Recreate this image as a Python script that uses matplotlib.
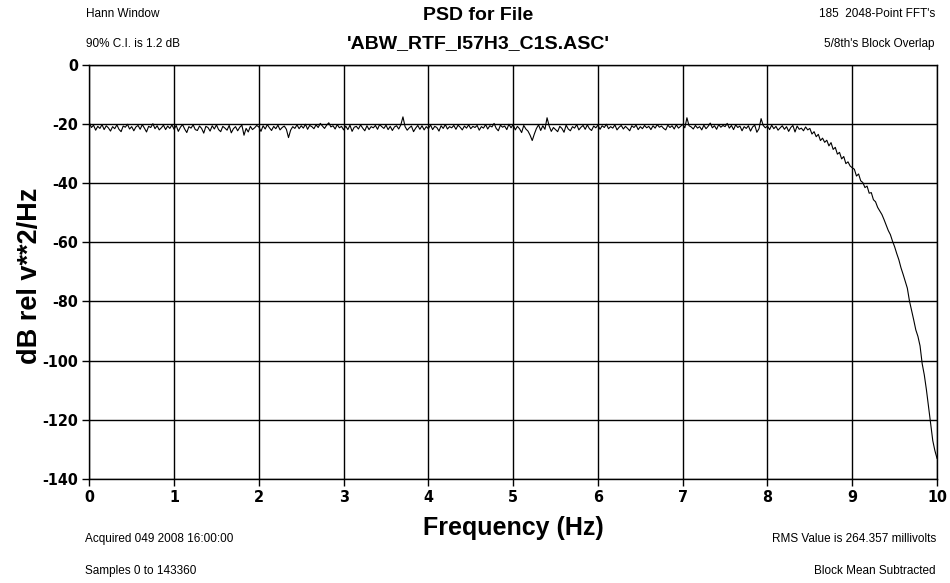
import numpy as np
import matplotlib
matplotlib.use("Agg")
import matplotlib.pyplot as plt
from matplotlib.font_manager import FontProperties

# ---- data (dB rel v**2/Hz, 0.025 Hz spacing) ----
psd_0_4 = [
    -19.6, -21.2, -20.4, -22.1, -20.8, -21.5, -20.2, -21.9, -20.6, -21.3, -22.4, -20.9, -21.6, -20.3, -21.8, -22.6, -20.7, -21.1, -20.1, -21.7,
    -20.9, -22.3, -21.0, -20.5, -21.8, -20.2, -21.4, -22.7, -20.8, -21.2, -19.9, -21.6, -20.6, -22.0, -21.3, -20.4, -21.9, -20.7, -21.5, -20.3,
    -21.8, -20.5, -22.5, -21.1, -20.2, -21.7, -22.9, -20.9, -21.4, -20.3, -21.9, -22.2, -20.7, -21.5, -23.1, -20.8, -21.2, -22.4, -20.6, -21.7,
    -20.3, -21.9, -22.6, -20.8, -21.4, -22.1, -20.5, -23.0, -21.6, -20.9, -22.3, -21.1, -20.4, -23.8, -21.5, -22.7, -20.8, -21.9, -21.3, -20.5,
    -21.0, -22.5, -20.6, -21.7, -20.2, -21.3, -22.2, -20.8, -21.6, -20.4, -22.0, -21.2, -20.7, -21.8, -24.6, -22.1, -20.9, -21.5, -20.3, -21.6,
    -20.6, -21.4, -20.1, -21.8, -20.5, -20.9, -21.6, -20.3, -21.2, -19.8, -20.7, -21.5, -20.4, -19.6, -21.0, -20.6, -21.7, -20.2, -21.3, -20.8,
    -22.0, -20.7, -21.9, -20.4, -22.5, -21.1, -20.8, -21.7, -20.3, -21.4, -22.3, -20.6, -21.9, -20.9, -21.3, -20.5, -21.8, -20.2, -20.9, -21.5,
    -20.4, -21.9, -20.8, -22.2, -21.0, -20.6, -21.7, -20.3, -17.6, -20.9, -22.1, -21.3, -20.7, -22.6, -21.4, -20.5, -21.8, -20.6, -22.0, -20.9,
]
psd_4_8 = [
    -21.6, -20.3, -21.9, -20.8, -21.2, -22.4, -20.6, -21.5, -20.2, -21.7, -20.9, -21.3, -20.5, -21.8, -20.4, -21.1, -22.0, -20.7, -21.4, -20.3,
    -21.6, -20.8, -21.2, -20.5, -22.1, -20.9, -21.4, -20.2, -21.7, -20.6, -21.0, -19.8, -21.5, -22.3, -20.4, -21.1, -20.7, -21.9, -20.1, -21.3,
    -20.2, -22.0, -20.8, -21.6, -22.9, -20.5, -21.7, -22.4, -23.8, -25.6, -23.4, -21.5, -20.3, -22.2, -20.6, -21.8, -17.9, -20.7, -22.5, -21.2,
    -21.9, -22.6, -20.8, -21.5, -22.8, -20.4, -21.7, -22.3, -20.9, -21.4, -20.2, -22.0, -21.1, -20.5, -21.8, -20.3, -21.6, -22.2, -20.7, -21.3,
    -20.4, -21.8, -20.6, -21.2, -20.1, -21.6, -20.9, -21.4, -20.3, -22.0, -21.1, -20.5, -21.7, -20.8, -21.5, -22.3, -20.6, -21.2, -20.4, -21.9,
    -20.9, -21.6, -20.5, -21.3, -20.8, -21.9, -20.6, -21.4, -20.2, -21.1, -20.7, -21.5, -22.0, -20.4, -21.2, -20.6, -21.7, -20.3, -21.4, -20.8,
    -20.1, -21.3, -17.9, -20.6, -21.0, -21.7, -20.5, -21.4, -20.9, -22.0, -20.4, -21.6, -20.8, -19.7, -21.3, -20.6, -21.8, -20.2, -21.1, -20.5,
    -20.9, -19.8, -21.4, -20.5, -21.9, -20.3, -21.2, -20.7, -22.3, -20.9, -21.5, -20.6, -22.4, -21.0, -20.4, -22.8, -21.6, -18.2, -20.5, -21.3,
]
psd_8_10 = [
    -20.7, -21.9, -20.4, -21.6, -20.8, -22.1, -21.3, -20.6, -21.8, -20.9, -22.5, -21.2, -20.5, -22.7, -20.7, -21.8, -21.4, -22.3, -21.0, -22.0,
    -21.5, -23.4, -22.6, -24.3, -23.5, -25.6, -24.8, -26.2, -25.5, -27.4, -26.3, -28.6, -27.9, -30.2, -29.6, -31.8, -31.0, -33.4, -32.8, -34.2,
    -34.8, -35.3, -37.6, -36.9, -39.2, -39.8, -41.5, -41.0, -43.4, -43.2, -45.6, -46.3, -48.2, -49.4, -50.6, -52.3, -54.1, -56.0, -57.4, -59.6,
    -61.5, -63.8, -65.9, -68.6, -70.8, -73.2, -75.5, -79.8, -83.0, -86.2, -89.6, -91.8, -95.0, -101.0, -104.8, -109.8, -115.6, -121.2, -127.0, -130.4,
    -133.0,
]
psd_db = psd_0_4 + psd_4_8 + psd_8_10
freq_hz = np.linspace(0.0, 10.0, len(psd_db))

x_ticks = [0, 1, 2, 3, 4, 5, 6, 7, 8, 9, 10]
y_ticks = [0, -20, -40, -60, -80, -100, -120, -140]

title_line1 = "PSD for File"
title_line2 = "'ABW_RTF_I57H3_C1S.ASC'"
top_left = ["Hann Window", "90% C.I. is 1.2 dB"]
top_right = ["185  2048-Point FFT's", "5/8th's Block Overlap"]
bottom_left = ["Acquired 049 2008 16:00:00", "Samples 0 to 143360"]
bottom_right = ["RMS Value is 264.357 millivolts", "Block Mean Subtracted"]

# ---- figure ----
W, H = 950, 583
fig = plt.figure(figsize=(W / 100, H / 100), dpi=100)
fig.patch.set_facecolor("white")

def px(x, y):
    return x / W, 1 - y / H

left, right, top, bottom = 89.3, 937.0, 64.8, 479.0
ax = fig.add_axes([left / W, 1 - bottom / H, (right - left) / W, (bottom - top) / H])

ax.plot(freq_hz, psd_db, color="black", linewidth=0.8)
ax.set_xlim(0, 10)
ax.set_ylim(-140, 0)
ax.set_xticks(x_ticks)
ax.set_yticks(y_ticks)
ax.set_xticklabels([str(t) for t in x_ticks])
ax.set_yticklabels([str(t) for t in y_ticks])
ax.grid(True, color="black", linewidth=1.0)
ax.set_axisbelow(True)
for s in ax.spines.values():
    s.set_color("black")
    s.set_linewidth(1.0)

tick_font = FontProperties(family="DejaVu Sans", stretch="condensed", weight="bold", size=11.5)
ax.tick_params(axis="both", direction="out", length=5, width=1.0, color="black", pad=3)
for lab in ax.get_xticklabels() + ax.get_yticklabels():
    lab.set_fontproperties(tick_font)

small = dict(family="Liberation Sans", fontsize=8.5, color="black")
big = dict(family="Liberation Sans", fontsize=14, fontweight="bold", color="black")

fig.text(*px(86, 14), top_left[0], ha="left", va="center", **small)
fig.text(*px(86, 44), top_left[1], ha="left", va="center", **small)
fig.text(*px(935, 14), top_right[0], ha="right", va="center", **small)
fig.text(*px(935, 44), top_right[1], ha="right", va="center", **small)
fig.text(*px(85, 539), bottom_left[0], ha="left", va="center", **small)
fig.text(*px(85, 571), bottom_left[1], ha="left", va="center", **small)
fig.text(*px(936, 539), bottom_right[0], ha="right", va="center", **small)
fig.text(*px(936, 571), bottom_right[1], ha="right", va="center", **small)

fig.text(*px(478, 15), title_line1, ha="center", va="center", **big)
fig.text(*px(478, 44), title_line2, ha="center", va="center", **big)
fig.text(*px(513, 528), "Frequency (Hz)", ha="center", va="center",
         family="Liberation Sans", fontsize=18, fontweight="bold")
fig.text(*px(30, 276), "dB rel v**2/Hz", ha="center", va="center", rotation=90,
         family="Liberation Sans", fontsize=19.5, fontweight="bold")

fig.savefig("out.png", dpi=100, facecolor="white")
